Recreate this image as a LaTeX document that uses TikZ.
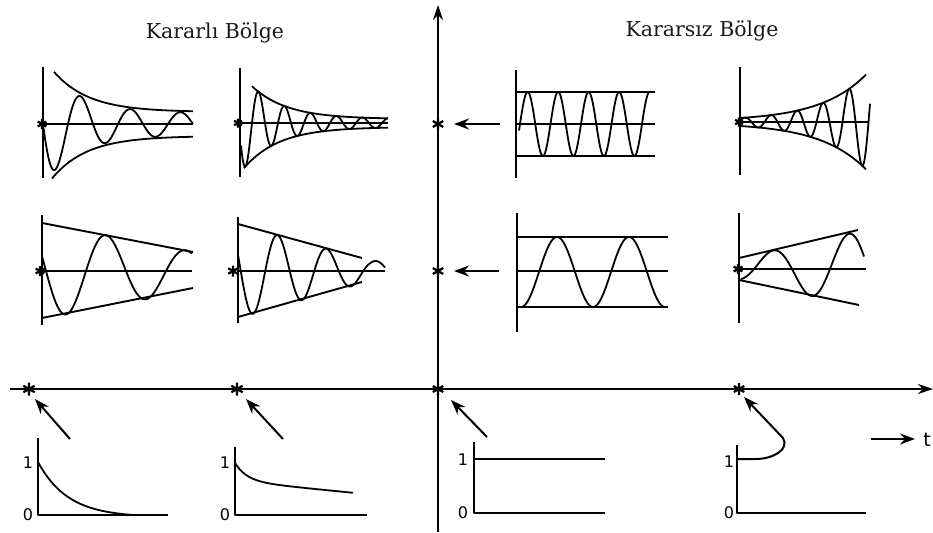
\documentclass[tikz,border=0pt]{standalone}
\usepackage{fontspec}
\setmainfont{DejaVu Serif}
\newfontfamily\lblfont{DejaVu Sans}
\usetikzlibrary{arrows.meta}
\newcommand\polestar[2]{\draw[starline] (#1)+(0,-#2)--+(0,#2) (#1)+(-0.87*#2,-0.5*#2)--+(0.87*#2,0.5*#2) (#1)+(-0.87*#2,0.5*#2)--+(0.87*#2,-0.5*#2);}
\begin{document}
\begin{tikzpicture}[x=1pt,y=-1pt,line width=1.9pt,line join=round,
  starline/.style={line width=2.2pt},
  wave/.style={line width=1.8pt},
  arr/.style={-{Stealth[length=15pt,width=11pt]},line width=2pt},
  mainax/.style={-{Stealth[length=15pt,width=10pt]},line width=2pt},
  title/.style={font=\fontsize{20.5}{24}\selectfont,text=black!90},
  num/.style={font=\lblfont\fontsize{16}{17}\selectfont},
  tlab/.style={font=\lblfont\fontsize{19}{20}\selectfont}]
\useasboundingbox (0,0) rectangle (933,532);

% main axes
\coordinate (vbot) at (438,532);
\coordinate (vtop) at (438,5);
\coordinate (hl) at (10,389);
\coordinate (hr) at (933,389);
\draw[mainax] (vbot) -- (vtop);
\draw[mainax] (hl) -- (hr);

% titles
\node[title] (t1) at (215,33) {Kararlı Bölge};
\node[title] (t2) at (702,31) {Kararsız Bölge};

% poles
\coordinate (s1) at (29,389);
\coordinate (s2) at (237,389);
\coordinate (s3) at (438,389);
\coordinate (s4) at (739,389);
\coordinate (s5) at (438,124);
\coordinate (s6) at (438,271);
\polestar{s1}{6.5}
\polestar{s2}{6.5}
\polestar{s3}{6}
\polestar{s4}{6}
\polestar{s5}{6}
\polestar{s6}{6}

% ---- row 1 ----
% graph 1
\draw (43,67) -- (43,178);
\draw (43,124) -- (193,124);
\draw[wave] plot[domain=54:193,samples=60] (\x,{124-(12+45*exp(-(\x-50)/35))});
\draw[wave] plot[domain=52:193,samples=60] (\x,{124+(12+45*exp(-(\x-50)/35))});
\draw[wave] plot[domain=43:193,samples=220] (\x,{124+(12+45*exp(-(\x-50)/35))*0.9*sin((\x-43)/50*360)});
\coordinate (g1) at (42,124);
\polestar{g1}{5}

% graph 2
\draw (240,68) -- (240,177);
\draw (240,123) -- (388,123);
\draw[wave] plot[domain=252:388,samples=60] (\x,{123-(4+40*exp(-(\x-245)/35))});
\draw[wave] plot[domain=244:388,samples=60] (\x,{123+(4+40*exp(-(\x-245)/35))});
\draw[wave] plot[domain=241:388,samples=300] (\x,{123+(4+40*exp(-(\x-245)/35))*sin((\x-239)/26*360)});
\coordinate (g2) at (238,123);
\polestar{g2}{4.5}

% graph 3
\draw (516,70) -- (516,178);
\draw (516,92) -- (655,92);
\draw (516,124) -- (655,124);
\draw (516,156) -- (655,156);
\draw[wave] plot[domain=519:650,samples=260] (\x,{124-32*sin((\x-520)/30.5*360)});

% graph 4
\draw (740,67) -- (740,175);
\draw (740,122) -- (868,122);
\draw[wave] plot[domain=740:866,samples=60] (\x,{122-(1+3*exp((\x-740)/46))});
\draw[wave] plot[domain=740:866,samples=60] (\x,{122+(1+3*exp((\x-740)/46))});
\draw[wave] plot[domain=741:870,samples=300] (\x,{122-(1+3*exp((\x-740)/46))*sin((\x-842.5)/26*360)});
\coordinate (g4) at (739,122);
\polestar{g4}{4.5}

% arrows to vertical axis
\coordinate (r1a) at (500,124);
\coordinate (r1b) at (454,124);
\draw[arr] (r1a) -- (r1b);
\coordinate (r2a) at (499,271);
\coordinate (r2b) at (454,271);
\draw[arr] (r2a) -- (r2b);

% ---- row 2 ----
% graph 5
\draw (42,215) -- (42,325);
\draw (42,271) -- (192,271);
\draw (42,223) -- (193,252);
\draw (42,318) -- (193,288);
\draw[wave] plot[domain=42:192,samples=150] (\x,{271+(48-0.19*(\x-42))*sin((\x-46)/80*360)});
\coordinate (g5) at (40,271);
\polestar{g5}{5}

% graph 6
\draw (238,217) -- (238,323);
\draw (238,271) -- (385,271);
\draw (238,224) -- (362,258);
\draw (238,317) -- (362,282);
\draw[wave] plot[domain=238:385,samples=200] (\x,{271+max(47-0.28*(\x-238),10)*sin((\x-240.75)/49*360)});
\coordinate (g6) at (233,271);
\polestar{g6}{5.5}

% graph 7
\draw (517,213) -- (517,332);
\draw (517,237) -- (668,237);
\draw (517,271) -- (668,271);
\draw (517,307) -- (668,307);
\draw[wave] plot[domain=521:665,samples=160] (\x,{272+35*cos((\x-521)/72*360)});

% graph 8
\draw (739,213) -- (739,323);
\draw (739,269) -- (866,269);
\draw (739,258) -- (858,230);
\draw (739,280) -- (859,305);
\draw[wave] plot[domain=741:864,samples=150] (\x,{269-(11+0.22*(\x-739))*sin((\x-754)/76*360)});
\coordinate (g8) at (738,269);
\polestar{g8}{5}

% ---- row 3 ----
% arrows to horizontal-axis poles
\coordinate (b1a) at (70,439);
\coordinate (b1b) at (35,399);
\draw[arr] (b1a) -- (b1b);
\coordinate (b2a) at (283,439);
\coordinate (b2b) at (246,399);
\draw[arr] (b2a) -- (b2b);
\coordinate (b3a) at (487,437);
\coordinate (b3b) at (451,400);
\draw[arr] (b3a) -- (b3b);

% plot A
\draw (38,438) -- (38,515) -- (168,515);
\draw[wave] plot[domain=38:133,samples=60] (\x,{462+53*(1-exp(-(\x-38)/30))/0.958});
\node[num] (a1) at (28,463) {1};
\node[num] (a0) at (28,515) {0};

% plot B
\draw (235,447) -- (235,515) -- (367,515);
\draw[wave] plot[domain=235:353,samples=60] (\x,{463+18*(1-exp(-(\x-235)/12))+0.1*(\x-235)});
\node[num] (bb1) at (225,463) {1};
\node[num] (bb0) at (225,515) {0};

% plot C
\draw (474,442) -- (474,513) -- (605,513);
\draw (474,459) -- (605,459);
\node[num] (c1) at (463,460) {1};
\node[num] (c0) at (463,513) {0};

% plot D
\draw (737,445) -- (737,513) -- (866,513);
\coordinate (d0) at (737,459);
\coordinate (d1) at (756,459);
\coordinate (d2) at (783,438);
\coordinate (d3) at (744,397);
\draw[arr] (d0) -- (d1) .. controls (772,459) and (790,450) .. (d2) -- (d3);
\node[num] (dd1) at (729,462) {1};
\node[num] (dd0) at (729,513) {0};

% t label
\coordinate (ta) at (871,439);
\coordinate (tb) at (915,439);
\draw[arr] (ta) -- (tb);
\node[tlab] (tt) at (927,440) {t};
\end{tikzpicture}
\end{document}
